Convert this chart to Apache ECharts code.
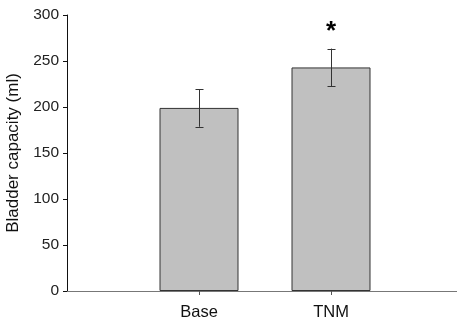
<!DOCTYPE html>
<html><head><meta charset="utf-8">
<script src="https://cdn.jsdelivr.net/npm/echarts@6/dist/echarts.min.js"></script>
<style>html,body{margin:0;padding:0;background:#fff}#c{width:457px;height:325px}</style>
</head><body><div id="c"></div>
<script>
const categories = ['', 'Base', 'TNM', ''];
const means = [null, 199, 243, null];
const errors = [null, 20.5, 20.5, null];
const yTicks = [0, 50, 100, 150, 200, 250, 300];
const significance = [null, null, '*', null];

const chart = echarts.init(document.getElementById('c'), null, {renderer: 'canvas'});
const font = 'Liberation Sans, Arial, sans-serif';
chart.setOption({
  animation: false,
  grid: {left: 67, right: -6, top: 15, bottom: 34, outerBoundsMode: 'none', containLabel: false},
  xAxis: {
    type: 'category', data: categories, boundaryGap: false,
    axisLine: {lineStyle: {color: '#777', width: 1}},
    axisTick: {length: 4, lineStyle: {color: '#555'}, interval: (i) => categories[i] !== ''},
    axisLabel: {interval: 0, margin: 13, fontFamily: font, fontSize: 16.5, color: '#111'},
    splitLine: {show: false}
  },
  yAxis: {
    type: 'value', min: yTicks[0], max: yTicks[yTicks.length - 1], interval: 50,
    name: 'Bladder capacity (ml)', nameLocation: 'middle', nameGap: 43,
    nameTextStyle: {fontFamily: font, fontSize: 17, color: '#111'},
    axisLine: {show: true, lineStyle: {color: '#111', width: 1}},
    axisTick: {show: true, length: 4, lineStyle: {color: '#111'}},
    axisLabel: {margin: 8, fontFamily: font, fontSize: 15.5, color: '#222'},
    splitLine: {show: false}
  },
  series: [
    {
      type: 'bar', data: means, barWidth: 79,
      itemStyle: {color: '#c0c0c0', borderColor: '#333', borderWidth: 1}
    },
    {
      type: 'custom',
      data: means.map((m, i) => m == null ? null : [i, m, errors[i]]).filter(d => d),
      renderItem: function (params, api) {
        const x = api.value(0), m = api.value(1), e = api.value(2);
        const top = api.coord([x, m + e]);
        const bot = api.coord([x, m - e]);
        const cx = Math.round(top[0]) + 0.5;
        const w = 4;
        const s = {stroke: '#333', lineWidth: 1};
        return {type: 'group', children: [
          {type: 'line', shape: {x1: cx, y1: top[1], x2: cx, y2: bot[1]}, style: s},
          {type: 'line', shape: {x1: cx - w, y1: Math.round(top[1]) + 0.5, x2: cx + w, y2: Math.round(top[1]) + 0.5}, style: s},
          {type: 'line', shape: {x1: cx - w, y1: Math.round(bot[1]) + 0.5, x2: cx + w, y2: Math.round(bot[1]) + 0.5}, style: s}
        ]};
      },
      z: 5
    },
    {
      type: 'custom',
      data: significance.map((t, i) => t ? [i, means[i] + errors[i], t] : null).filter(d => d),
      renderItem: function (params, api) {
        const i = api.value(0);
        const p = api.coord([i, api.value(1)]);
        return {type: 'text', x: p[0], y: p[1] - 4,
          style: {text: significance[i], font: 'bold 26px ' + font, fill: '#000', align: 'center', verticalAlign: 'bottom'}};
      },
      z: 6
    }
  ]
});
</script></body></html>
